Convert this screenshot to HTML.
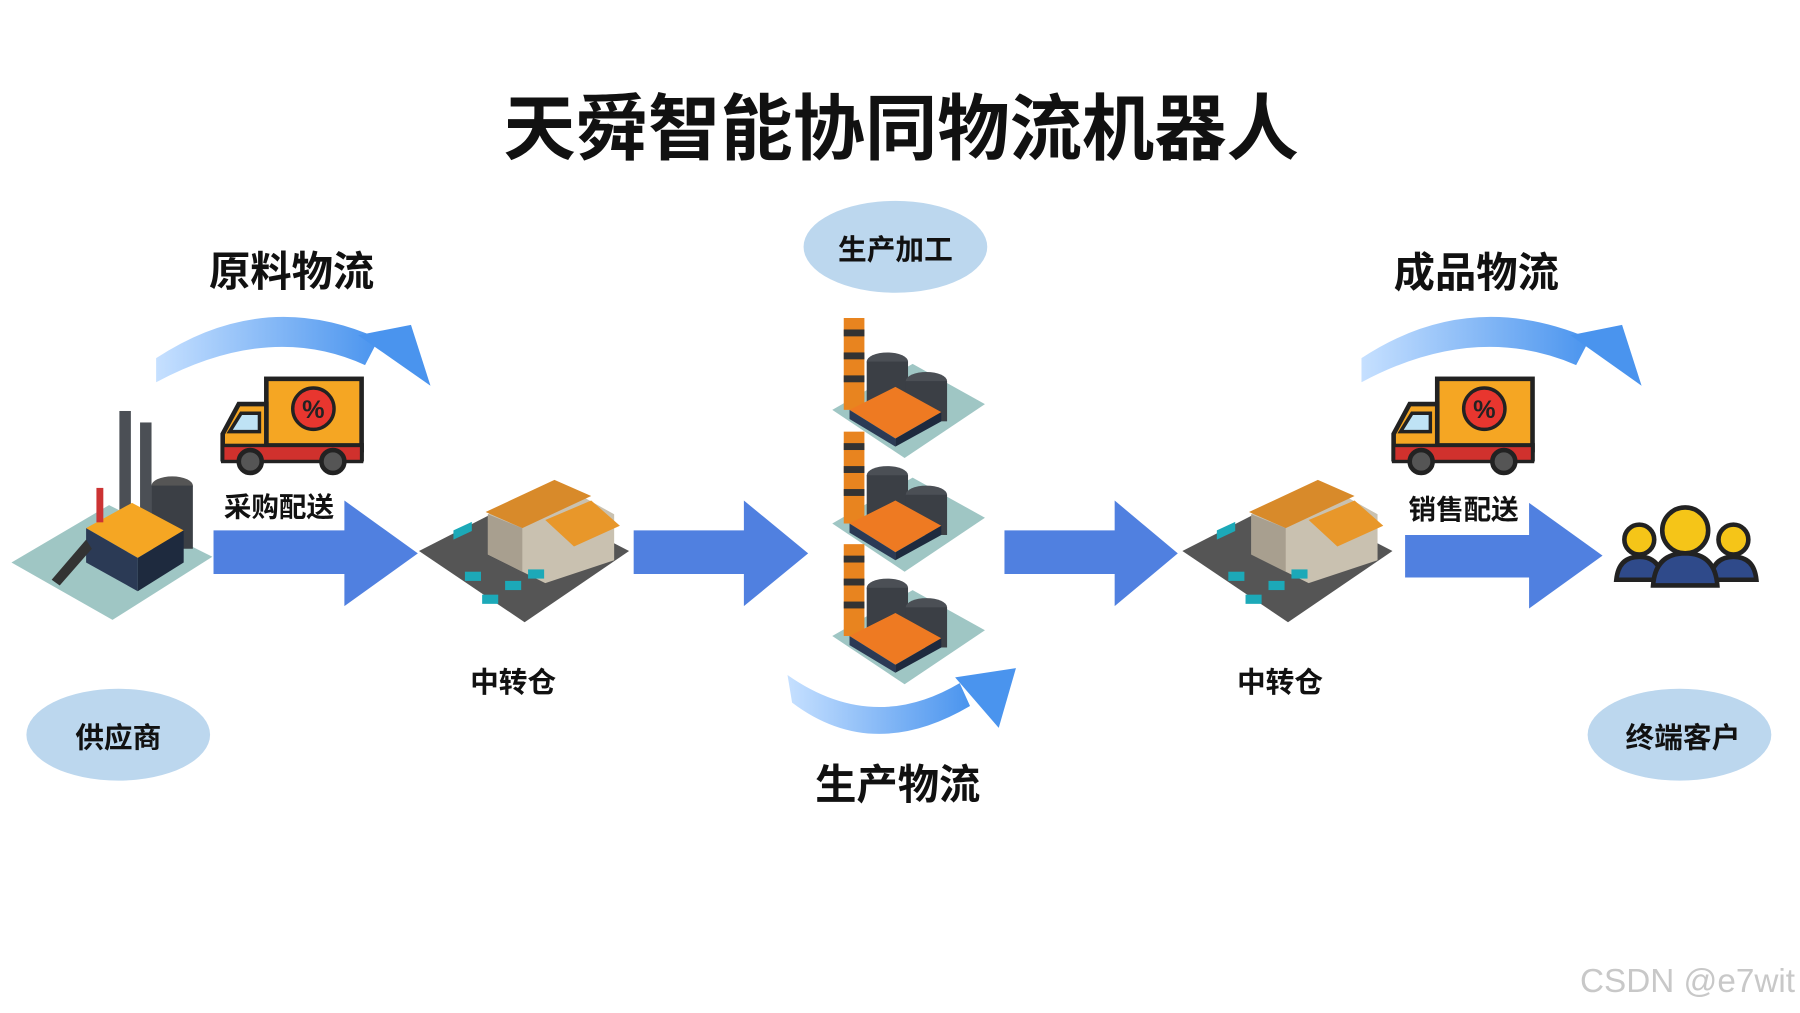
<!DOCTYPE html>
<html><head><meta charset="utf-8"><style>
html,body{margin:0;padding:0;background:#fff;width:1800px;height:1013px;overflow:hidden}
svg{display:block}
text{font-family:"Liberation Sans","Noto Sans CJK SC",sans-serif;font-weight:bold;fill:#111}
</style></head><body>
<svg width="1800" height="1013" viewBox="0 0 1568 882.4" preserveAspectRatio="none" xmlns="http://www.w3.org/2000/svg">
<defs>
<linearGradient id="cg" x1="0" y1="0" x2="1" y2="0"><stop offset="0" stop-color="#c6e0ff"/><stop offset="1" stop-color="#4a94ee"/></linearGradient>
<g id="truck">
<rect x="42" y="0" width="83" height="62" fill="#f5a623" stroke="#222" stroke-width="4"/>
<path d="M42 22 H18 L4 48 V70 H125 V58 H42 Z" fill="#f5a623" stroke="#222" stroke-width="4"/>
<rect x="4" y="58" width="121" height="14" fill="#d0312d" stroke="#222" stroke-width="3"/>
<path d="M20 30 H36 V46 H10 Z" fill="#bfe3f5" stroke="#222" stroke-width="3"/>
<circle cx="83" cy="26" r="18" fill="#e8362f" stroke="#222" stroke-width="3"/>
<text x="83" y="34" font-size="22" text-anchor="middle" style="fill:#222">%</text>
<circle cx="28" cy="72" r="10" fill="#555" stroke="#222" stroke-width="4"/>
<circle cx="100" cy="72" r="10" fill="#555" stroke="#222" stroke-width="4"/>
</g>
<g id="ware">
<path d="M0 62 L92 15 L183 62 L92 124 Z" fill="#555"/>
<path d="M60 30 L120 2 L170 30 L170 70 L110 90 L60 65 Z" fill="#c9c1b0"/>
<path d="M58 28 L118 0 L150 14 L90 42 Z" fill="#d88a2a"/>
<path d="M110 35 L150 18 L175 40 L135 58 Z" fill="#e8972a"/>
<path d="M90 42 L90 80 L60 65 L60 30 Z" fill="#a89f8f"/>
<rect x="30" y="58" width="16" height="8" fill="#1ca9b8" transform="skewY(-25)"/>
<rect x="55" y="100" width="14" height="8" fill="#1ca9b8"/>
<rect x="75" y="88" width="14" height="8" fill="#1ca9b8"/>
<rect x="40" y="80" width="14" height="8" fill="#1ca9b8"/>
<rect x="95" y="78" width="14" height="8" fill="#1ca9b8"/>
</g>
<g id="plant">
<path d="M0 80 L70 40 L133 75 L63 122 Z" fill="#9fc6c4"/>
<rect x="10" y="0" width="18" height="80" fill="#e8841f"/>
<rect x="10" y="10" width="18" height="6" fill="#333"/><rect x="10" y="30" width="18" height="6" fill="#333"/><rect x="10" y="50" width="18" height="6" fill="#333"/>
<ellipse cx="48" cy="38" rx="18" ry="8" fill="#4b4f55"/><rect x="30" y="38" width="36" height="35" fill="#3b3f45"/>
<ellipse cx="82" cy="55" rx="18" ry="8" fill="#4b4f55"/><rect x="64" y="55" width="36" height="35" fill="#3b3f45"/>
<path d="M15 80 L55 60 L95 82 L55 105 Z" fill="#ee7a22"/>
<path d="M15 80 L55 105 L55 112 L15 88 Z" fill="#2b3a55"/>
<path d="M55 105 L95 82 L95 90 L55 112 Z" fill="#1e2a3e"/>
</g>
</defs>
<text x="785" y="134" font-size="63" text-anchor="middle">天舜智能协同物流机器人</text>
<text x="254" y="249" font-size="36" text-anchor="middle">原料物流</text>
<text x="1286" y="250" font-size="36" text-anchor="middle">成品物流</text>
<text x="782" y="696" font-size="36" text-anchor="middle">生产物流</text>
<ellipse cx="780" cy="215" rx="80" ry="40" fill="#bcd7ee"/>
<text x="780" y="226" font-size="25" text-anchor="middle">生产加工</text>
<ellipse cx="103" cy="640" rx="80" ry="40" fill="#bcd7ee"/>
<text x="103" y="651" font-size="25" text-anchor="middle">供应商</text>
<ellipse cx="1463" cy="640" rx="80" ry="40" fill="#bcd7ee"/>
<text x="1466" y="651" font-size="25" text-anchor="middle">终端客户</text>
<path d="M136 333 L136 312 Q230 250 330 295 L318 318 Q235 280 136 333 Z" fill="url(#cg)"/>
<path d="M312 292 L358 283 L375 336 Z" fill="#4a94ee"/>
<path d="M1186 333 L1186 312 Q1280 250 1385 295 L1373 318 Q1285 280 1186 333 Z" fill="url(#cg)"/>
<path d="M1368 292 L1413 283 L1430 336 Z" fill="#4a94ee"/>
<path d="M686 588 L690 612 Q760 665 845 615 L836 595 Q760 640 686 588 Z" fill="url(#cg)"/>
<path d="M832 590 L885 582 L870 634 Z" fill="#4a94ee"/>
<path d="M186 462 H300 V436 L364 482 L300 528 V500 H186 Z" fill="#5080e0"/>
<path d="M552 462 H648 V436 L704 482 L648 528 V500 H552 Z" fill="#5080e0"/>
<path d="M875 462 H971 V436 L1026 482 L971 528 V500 H875 Z" fill="#5080e0"/>
<path d="M1224 466 H1332 V438 L1396 484 L1332 530 V503 H1224 Z" fill="#5080e0"/>
<use href="#truck" x="190" y="330"/>
<use href="#truck" x="1210" y="330"/>
<text x="243" y="450" font-size="24" text-anchor="middle">采购配送</text>
<text x="1275" y="452" font-size="24" text-anchor="middle">销售配送</text>
<path d="M10 490 L95 440 L185 485 L98 540 Z" fill="#9fc6c4"/>
<rect x="104" y="358" width="10" height="110" fill="#4b4f55"/>
<rect x="122" y="368" width="10" height="100" fill="#4b4f55"/>
<ellipse cx="150" cy="423" rx="18" ry="8" fill="#555"/><rect x="132" y="423" width="36" height="55" fill="#3b3f45"/>
<path d="M75 460 L115 438 L160 462 L120 486 Z" fill="#f5a623"/>
<path d="M75 460 L120 486 L120 515 L75 490 Z" fill="#2b3a55"/>
<path d="M120 486 L160 462 L160 490 L120 515 Z" fill="#1e2a3e"/>
<path d="M45 505 L75 470 L80 478 L52 510 Z" fill="#333"/>
<rect x="84" y="425" width="6" height="30" fill="#c33"/>
<use href="#ware" x="365" y="418"/>
<use href="#ware" x="1030" y="418"/>
<text x="447" y="603" font-size="25" text-anchor="middle">中转仓</text>
<text x="1115" y="603" font-size="25" text-anchor="middle">中转仓</text>
<use href="#plant" x="725" y="277"/>
<use href="#plant" x="725" y="376"/>
<use href="#plant" x="725" y="474"/>
<g stroke="#222" stroke-width="4">
<path d="M1408 505 Q1410 485 1428 485 Q1446 485 1448 505 Z" fill="#2f4a8a"/>
<path d="M1490 505 Q1492 485 1510 485 Q1528 485 1530 505 Z" fill="#2f4a8a"/>
<path d="M1440 510 Q1442 482 1468 482 Q1494 482 1496 510 Z" fill="#2f4a8a"/>
<circle cx="1428" cy="470" r="13" fill="#f5c518"/>
<circle cx="1510" cy="470" r="13" fill="#f5c518"/>
<circle cx="1468" cy="462" r="20" fill="#f5c518"/>
</g>
<text x="1470" y="864" font-size="29" text-anchor="middle" style="fill:#c8c8c8;font-weight:normal">CSDN @e7wit</text>
</svg>
</body></html>
